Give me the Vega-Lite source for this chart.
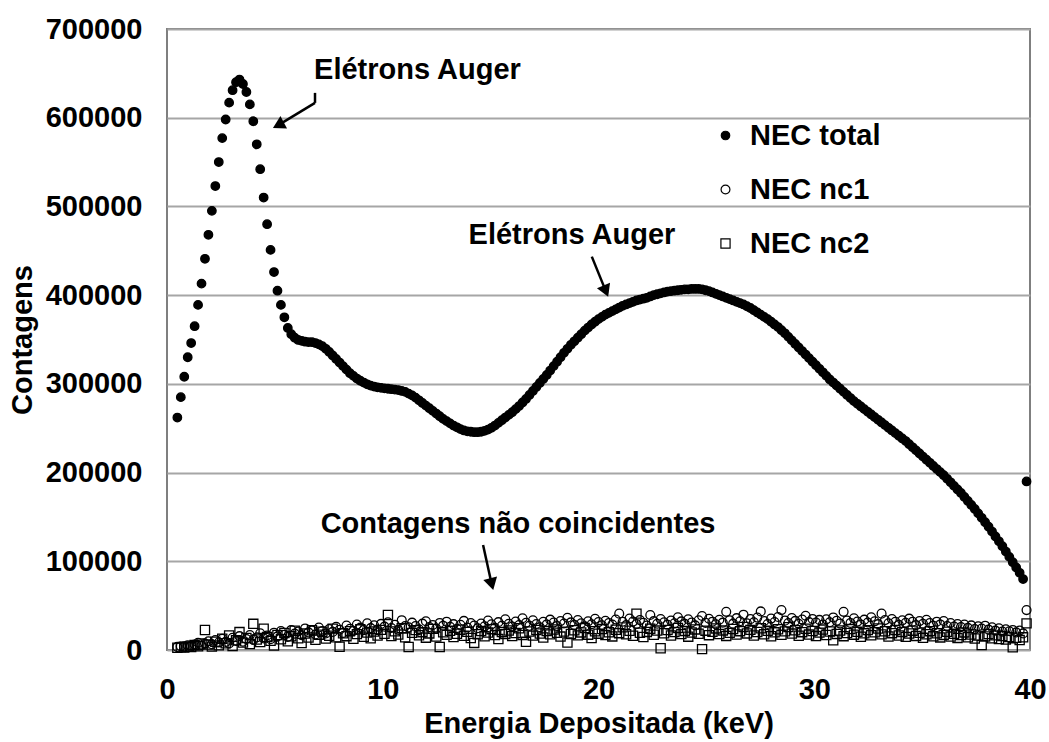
{
"$schema":"https://vega.github.io/schema/vega-lite/v6.json",
"width":863,"height":621,
"autosize":{"type":"none"},
"padding":{"left":167,"top":29,"right":19,"bottom":92},
"background":"white",
"config":{"font":"Liberation Sans","view":{"stroke":"#7f7f7f","strokeWidth":2},
"axis":{"labelFont":"Liberation Sans","labelFontWeight":"bold","labelFontSize":29,"labelColor":"black","titleFont":"Liberation Sans","titleFontWeight":"bold","titleFontSize":29,"titleColor":"black","ticks":false,"tickSize":0,"domain":false,"labelFlush":false,"labelOverlap":false},
"legend":{"orient":"none","legendX":544,"legendY":92,"title":null,"labelFontSize":29,"labelFont":"Liberation Sans","labelFontWeight":"bold","labelColor":"black","labelOffset":10,"rowPadding":24,"symbolStrokeWidth":1.2}},
"datasets":{"spec":[
{"e":0.48,"t":262000,"a":3500,"b":2500},{"e":0.64,"t":285000,"a":4200,"b":3100},{"e":0.8,"t":308000,"a":3800,"b":2800},{"e":0.96,"t":330000,"a":5200,"b":4000},{"e":1.12,"t":346000,"a":4600,"b":3300},{"e":1.28,"t":365000,"a":6100,"b":5600},{"e":1.44,"t":389000,"a":8200,"b":4200},{"e":1.6,"t":413000,"a":5400,"b":7300},{"e":1.76,"t":441000,"a":7300,"b":22500},{"e":1.92,"t":468000,"a":9800,"b":6100},
{"e":2.08,"t":495000,"a":6500,"b":3800},{"e":2.24,"t":523000,"a":11200,"b":9400},{"e":2.4,"t":550000,"a":8400,"b":5200},{"e":2.56,"t":577000,"a":12600,"b":12800},{"e":2.72,"t":598000,"a":9100,"b":7600},{"e":2.88,"t":617000,"a":7400,"b":16300},{"e":3.04,"t":631000,"a":13800,"b":4500},{"e":3.2,"t":640000,"a":10200,"b":10900},{"e":3.36,"t":643000,"a":15600,"b":20200},{"e":3.52,"t":638000,"a":9300,"b":8300},
{"e":3.68,"t":629000,"a":12400,"b":13500},{"e":3.84,"t":615000,"a":16800,"b":6700},{"e":4,"t":596000,"a":11500,"b":29500},{"e":4.16,"t":570000,"a":14200,"b":11800},{"e":4.32,"t":542000,"a":18900,"b":8900},{"e":4.48,"t":510000,"a":13100,"b":24000},{"e":4.64,"t":480000,"a":16400,"b":14600},{"e":4.8,"t":451000,"a":12200,"b":10300},{"e":4.96,"t":426000,"a":19500,"b":5100},{"e":5.12,"t":405000,"a":15300,"b":16900},
{"e":5.28,"t":389000,"a":21400,"b":12100},{"e":5.44,"t":375000,"a":17200,"b":19200},{"e":5.6,"t":363000,"a":14800,"b":9800},{"e":5.76,"t":356000,"a":22600,"b":15400},{"e":5.92,"t":352000,"a":18400,"b":21700},{"e":6.08,"t":349500,"a":20900,"b":13200},{"e":6.24,"t":348500,"a":16700,"b":7900},{"e":6.4,"t":347500,"a":24300,"b":18500},{"e":6.56,"t":347000,"a":19800,"b":14100},{"e":6.72,"t":347000,"a":22100,"b":22300},
{"e":6.88,"t":346000,"a":17500,"b":11600},{"e":7.04,"t":344500,"a":25400,"b":17300},{"e":7.2,"t":342500,"a":21300,"b":20600},{"e":7.36,"t":339500,"a":18600,"b":12900},{"e":7.52,"t":336000,"a":23700,"b":16100},{"e":7.68,"t":332000,"a":20400,"b":24100},{"e":7.84,"t":328000,"a":26100,"b":14400},{"e":8,"t":324000,"a":22800,"b":3700},{"e":8.16,"t":320000,"a":19300,"b":18800},{"e":8.32,"t":316000,"a":27500,"b":15600},
{"e":8.48,"t":312000,"a":23900,"b":21200},{"e":8.64,"t":309000,"a":21600,"b":12700},{"e":8.8,"t":306000,"a":28700,"b":17900},{"e":8.96,"t":303500,"a":25200,"b":23300},{"e":9.12,"t":301500,"a":22400,"b":14900},{"e":9.28,"t":299500,"a":30100,"b":19600},{"e":9.44,"t":298000,"a":24600,"b":13300},{"e":9.6,"t":297000,"a":27800,"b":20900},{"e":9.76,"t":296000,"a":23100,"b":16400},{"e":9.92,"t":295500,"a":29400,"b":22700},
{"e":10.08,"t":295000,"a":26300,"b":18200},{"e":10.24,"t":294500,"a":31200,"b":39500},{"e":10.4,"t":294000,"a":24800,"b":15700},{"e":10.56,"t":293500,"a":28500,"b":21000},{"e":10.72,"t":293000,"a":22700,"b":17400},{"e":10.88,"t":292000,"a":33600,"b":24600},{"e":11.04,"t":291000,"a":27100,"b":14300},{"e":11.2,"t":289000,"a":25500,"b":3400},{"e":11.36,"t":287000,"a":30800,"b":19300},{"e":11.52,"t":284500,"a":26900,"b":22400},
{"e":11.68,"t":281500,"a":23400,"b":16600},{"e":11.84,"t":278500,"a":29700,"b":20100},{"e":12,"t":275500,"a":32400,"b":13900},{"e":12.16,"t":272500,"a":25800,"b":18700},{"e":12.32,"t":269500,"a":28200,"b":23800},{"e":12.48,"t":266500,"a":24100,"b":15200},{"e":12.64,"t":263500,"a":30500,"b":3400},{"e":12.8,"t":260500,"a":27400,"b":19900},{"e":12.96,"t":258000,"a":31900,"b":17100},{"e":13.12,"t":255500,"a":26200,"b":21600},
{"e":13.28,"t":253000,"a":29100,"b":14700},{"e":13.44,"t":251000,"a":23800,"b":18300},{"e":13.6,"t":249000,"a":28400,"b":22900},{"e":13.76,"t":247500,"a":32800,"b":16000},{"e":13.92,"t":246500,"a":25300,"b":20500},{"e":14.08,"t":246000,"a":30300,"b":13500},{"e":14.24,"t":245500,"a":27600,"b":8000},{"e":14.4,"t":245500,"a":24500,"b":17800},{"e":14.56,"t":246000,"a":29800,"b":21400},{"e":14.72,"t":247000,"a":26700,"b":15400},
{"e":14.88,"t":248500,"a":33100,"b":19700},{"e":15.04,"t":250500,"a":28900,"b":23500},{"e":15.2,"t":253000,"a":25100,"b":16900},{"e":15.36,"t":256000,"a":31400,"b":12300},{"e":15.52,"t":259000,"a":27300,"b":20300},{"e":15.68,"t":262000,"a":34600,"b":18100},{"e":15.84,"t":265000,"a":29500,"b":22000},{"e":16,"t":268000,"a":26400,"b":15800},{"e":16.16,"t":271500,"a":32100,"b":19100},{"e":16.32,"t":275000,"a":28100,"b":24400},
{"e":16.48,"t":279000,"a":35800,"b":17000},{"e":16.64,"t":283000,"a":30600,"b":9200},{"e":16.8,"t":287500,"a":27200,"b":20800},{"e":16.96,"t":292000,"a":33400,"b":16200},{"e":17.12,"t":296500,"a":29300,"b":22600},{"e":17.28,"t":301000,"a":25700,"b":18600},{"e":17.44,"t":305500,"a":31700,"b":14100},{"e":17.6,"t":310000,"a":28800,"b":21300},{"e":17.76,"t":315000,"a":34200,"b":17600},{"e":17.92,"t":320000,"a":30900,"b":23100},
{"e":18.08,"t":325000,"a":27000,"b":19400},{"e":18.24,"t":330000,"a":32600,"b":15100},{"e":18.4,"t":335000,"a":29900,"b":20700},{"e":18.56,"t":339500,"a":36400,"b":8500},{"e":18.72,"t":344000,"a":31100,"b":18000},{"e":18.88,"t":348000,"a":28300,"b":22200},{"e":19.04,"t":352000,"a":33800,"b":16500},{"e":19.2,"t":356000,"a":30200,"b":19800},{"e":19.36,"t":360000,"a":26600,"b":24700},{"e":19.52,"t":363500,"a":32300,"b":17300},
{"e":19.68,"t":367000,"a":29000,"b":13400},{"e":19.84,"t":370000,"a":35100,"b":21100},{"e":20,"t":373000,"a":31500,"b":18400},{"e":20.16,"t":375500,"a":27800,"b":23600},{"e":20.32,"t":378000,"a":33000,"b":16800},{"e":20.48,"t":380000,"a":30400,"b":20000},{"e":20.64,"t":382000,"a":28600,"b":15300},{"e":20.8,"t":384000,"a":34400,"b":22800},{"e":20.96,"t":386000,"a":41000,"b":19000},{"e":21.12,"t":388000,"a":31800,"b":25500},
{"e":21.28,"t":389500,"a":28000,"b":17700},{"e":21.44,"t":391000,"a":35500,"b":21700},{"e":21.6,"t":392500,"a":32000,"b":16100},{"e":21.76,"t":394000,"a":29200,"b":41000},{"e":21.92,"t":395000,"a":33700,"b":19500},{"e":22.08,"t":396000,"a":30700,"b":14600},{"e":22.24,"t":397000,"a":27500,"b":20400},{"e":22.4,"t":398500,"a":39500,"b":23900},{"e":22.56,"t":400000,"a":32500,"b":17200},{"e":22.72,"t":401000,"a":29600,"b":21900},
{"e":22.88,"t":402000,"a":34900,"b":2000},{"e":23.04,"t":403000,"a":31300,"b":18900},{"e":23.2,"t":404000,"a":28400,"b":22500},{"e":23.36,"t":404500,"a":33300,"b":16300},{"e":23.52,"t":405000,"a":30000,"b":20200},{"e":23.68,"t":405500,"a":36800,"b":24900},{"e":23.84,"t":406000,"a":32200,"b":17900},{"e":24,"t":406500,"a":29400,"b":21500},{"e":24.16,"t":406500,"a":34700,"b":15000},{"e":24.32,"t":407000,"a":31000,"b":19700},
{"e":24.48,"t":407000,"a":27700,"b":23200},{"e":24.64,"t":407000,"a":33500,"b":18300},{"e":24.8,"t":406500,"a":38300,"b":1000},{"e":24.96,"t":405500,"a":30600,"b":21800},{"e":25.12,"t":404500,"a":35200,"b":16700},{"e":25.28,"t":403000,"a":31900,"b":20600},{"e":25.44,"t":401500,"a":28900,"b":24300},{"e":25.6,"t":400000,"a":34100,"b":18000},{"e":25.76,"t":398500,"a":30800,"b":22100},{"e":25.92,"t":397000,"a":43000,"b":15900},
{"e":26.08,"t":395500,"a":33600,"b":19300},{"e":26.24,"t":394000,"a":29700,"b":23700},{"e":26.4,"t":392500,"a":35900,"b":17500},{"e":26.56,"t":391000,"a":32400,"b":21200},{"e":26.72,"t":389500,"a":39800,"b":26000},{"e":26.88,"t":387500,"a":30100,"b":18700},{"e":27.04,"t":385500,"a":34800,"b":22700},{"e":27.2,"t":383000,"a":31200,"b":16400},{"e":27.36,"t":380500,"a":36500,"b":20300},{"e":27.52,"t":378000,"a":43500,"b":24500},
{"e":27.68,"t":375500,"a":32700,"b":17800},{"e":27.84,"t":373000,"a":29300,"b":21600},{"e":28,"t":370000,"a":35400,"b":15500},{"e":28.16,"t":367000,"a":31600,"b":19900},{"e":28.32,"t":364000,"a":37200,"b":23400},{"e":28.48,"t":360500,"a":45000,"b":17100},{"e":28.64,"t":357000,"a":33100,"b":21000},{"e":28.8,"t":353000,"a":30300,"b":25800},{"e":28.96,"t":349000,"a":36100,"b":18500},{"e":29.12,"t":345000,"a":32800,"b":22300},
{"e":29.28,"t":341000,"a":29500,"b":16000},{"e":29.44,"t":337000,"a":34300,"b":20100},{"e":29.6,"t":333000,"a":38600,"b":24000},{"e":29.76,"t":329000,"a":31400,"b":17400},{"e":29.92,"t":325000,"a":35000,"b":21400},{"e":30.08,"t":321000,"a":30900,"b":15700},{"e":30.24,"t":317000,"a":33900,"b":19600},{"e":30.4,"t":313000,"a":28600,"b":23000},{"e":30.56,"t":309000,"a":34600,"b":16900},{"e":30.72,"t":305000,"a":31300,"b":20800},
{"e":30.88,"t":301500,"a":36700,"b":11000},{"e":31.04,"t":298000,"a":32900,"b":18100},{"e":31.2,"t":294500,"a":29800,"b":22000},{"e":31.36,"t":291000,"a":43000,"b":15600},{"e":31.52,"t":287500,"a":33200,"b":19200},{"e":31.68,"t":284000,"a":30500,"b":23600},{"e":31.84,"t":280500,"a":35700,"b":17300},{"e":32,"t":277500,"a":32000,"b":20500},{"e":32.16,"t":274500,"a":28700,"b":14900},{"e":32.32,"t":271500,"a":34200,"b":18800},
{"e":32.48,"t":268500,"a":31000,"b":22400},{"e":32.64,"t":265500,"a":36900,"b":16600},{"e":32.8,"t":262500,"a":32300,"b":20000},{"e":32.96,"t":259500,"a":29100,"b":24200},{"e":33.12,"t":256500,"a":41000,"b":17600},{"e":33.28,"t":253500,"a":33700,"b":21100},{"e":33.44,"t":250500,"a":30200,"b":15200},{"e":33.6,"t":247500,"a":34900,"b":19000},{"e":33.76,"t":244500,"a":31700,"b":22600},{"e":33.92,"t":241500,"a":28300,"b":16300},
{"e":34.08,"t":238500,"a":33400,"b":20400},{"e":34.24,"t":235500,"a":30600,"b":14800},{"e":34.4,"t":232000,"a":35300,"b":18600},{"e":34.56,"t":228500,"a":31800,"b":21800},{"e":34.72,"t":225000,"a":28000,"b":15900},{"e":34.88,"t":221500,"a":32600,"b":19500},{"e":35.04,"t":218000,"a":29600,"b":13700},{"e":35.2,"t":214500,"a":34100,"b":17700},{"e":35.36,"t":211000,"a":30300,"b":21200},{"e":35.52,"t":207500,"a":27200,"b":15400},
{"e":35.68,"t":204000,"a":31900,"b":18900},{"e":35.84,"t":200500,"a":28800,"b":14200},{"e":36,"t":197000,"a":32700,"b":17000},{"e":36.16,"t":193000,"a":27100,"b":20600},{"e":36.32,"t":189000,"a":30400,"b":15100},{"e":36.48,"t":185000,"a":26500,"b":18200},{"e":36.64,"t":181000,"a":29300,"b":13600},{"e":36.8,"t":177000,"a":25800,"b":16800},{"e":36.96,"t":172500,"a":28600,"b":19800},{"e":37.12,"t":168000,"a":24900,"b":14400},
{"e":37.28,"t":163500,"a":27700,"b":17500},{"e":37.44,"t":159000,"a":23600,"b":12900},{"e":37.6,"t":154000,"a":26800,"b":16200},{"e":37.76,"t":149000,"a":24200,"b":5600},{"e":37.92,"t":144000,"a":27400,"b":15300},{"e":38.08,"t":139000,"a":22900,"b":18000},{"e":38.24,"t":133500,"a":25600,"b":13100},{"e":38.4,"t":128000,"a":21800,"b":16500},{"e":38.56,"t":122500,"a":24500,"b":12400},{"e":38.72,"t":117000,"a":20700,"b":15800},
{"e":38.88,"t":111000,"a":23400,"b":11700},{"e":39.04,"t":105000,"a":21100,"b":14700},{"e":39.2,"t":99000,"a":22600,"b":3000},{"e":39.36,"t":93000,"a":19800,"b":13800},{"e":39.52,"t":87000,"a":21900,"b":11200},{"e":39.68,"t":80000,"a":18700,"b":14300},{"e":39.84,"t":190000,"a":45000,"b":30000}
]},
"layer":[
{"data":{"name":"spec"},
"transform":[{"fold":["t","a","b"],"as":["s","v"]}],
"mark":{"type":"point","filled":true,"strokeWidth":1.3,"opacity":1},
"encoding":{
"x":{"field":"e","type":"quantitative","scale":{"domain":[0,40],"nice":false},"axis":{"values":[0,10,20,30,40],"format":"d","grid":false,"labelPadding":25,"title":"Energia Depositada (keV)","titlePadding":5}},
"y":{"field":"v","type":"quantitative","scale":{"domain":[0,700000],"nice":false},"axis":{"values":[0,100000,200000,300000,400000,500000,600000,700000],"format":"d","grid":true,"gridColor":"#a6a6a6","gridWidth":2,"labelPadding":25,"title":"Contagens","titlePadding":8}},
"shape":{"field":"s","type":"nominal","scale":{"domain":["t","a","b"],"range":["circle","circle","square"]},"legend":{"labelExpr":"datum.label=='t'?'NEC total':datum.label=='a'?'NEC nc1':'NEC nc2'"}},
"fill":{"field":"s","type":"nominal","scale":{"domain":["t","a","b"],"range":["#000000","transparent","transparent"]},"legend":{"labelExpr":"datum.label=='t'?'NEC total':datum.label=='a'?'NEC nc1':'NEC nc2'"}},
"stroke":{"field":"s","type":"nominal","scale":{"domain":["t","a","b"],"range":["#000000","#000000","#000000"]},"legend":{"labelExpr":"datum.label=='t'?'NEC total':datum.label=='a'?'NEC nc1':'NEC nc2'"}},
"size":{"field":"s","type":"nominal","scale":{"domain":["t","a","b"],"range":[72,84]},"legend":{"labelExpr":"datum.label=='t'?'NEC total':datum.label=='a'?'NEC nc1':'NEC nc2'"}}
}},
{"data":{"values":[{"e":6.86,"v":628000,"e2":6.86,"v2":616700},{"e":6.86,"v":616700,"e2":5.16,"v2":591700},{"e":19.69,"v":443400,"e2":20.34,"v2":404500},{"e":14.65,"v":118400,"e2":15.05,"v2":74200}]},
"mark":{"type":"rule","color":"black","strokeWidth":2.5},
"encoding":{"x":{"field":"e","type":"quantitative"},"y":{"field":"v","type":"quantitative"},"x2":{"field":"e2"},"y2":{"field":"v2"}}},
{"data":{"values":[{"e":5.16,"v":591700}]},"mark":{"type":"point","shape":"triangle-up","filled":true,"color":"black","size":200,"angle":242,"opacity":1},"encoding":{"x":{"field":"e","type":"quantitative"},"y":{"field":"v","type":"quantitative"}}},
{"data":{"values":[{"e":20.34,"v":404500}]},"mark":{"type":"point","shape":"triangle-up","filled":true,"color":"black","size":200,"angle":157.5,"opacity":1},"encoding":{"x":{"field":"e","type":"quantitative"},"y":{"field":"v","type":"quantitative"}}},
{"data":{"values":[{"e":15.05,"v":74200}]},"mark":{"type":"point","shape":"triangle-up","filled":true,"color":"black","size":200,"angle":165.5,"opacity":1},"encoding":{"x":{"field":"e","type":"quantitative"},"y":{"field":"v","type":"quantitative"}}},
{"data":{"values":[{"e":11.61,"v":654000,"txt":"Elétrons Auger"},{"e":18.77,"v":468000,"txt":"Elétrons Auger"},{"e":16.27,"v":142000,"txt":"Contagens não coincidentes"}]},
"mark":{"type":"text","font":"Liberation Sans","fontWeight":"bold","fontSize":29,"color":"black","align":"center","baseline":"middle"},
"encoding":{"x":{"field":"e","type":"quantitative"},"y":{"field":"v","type":"quantitative"},"text":{"field":"txt"}}}
]
}
